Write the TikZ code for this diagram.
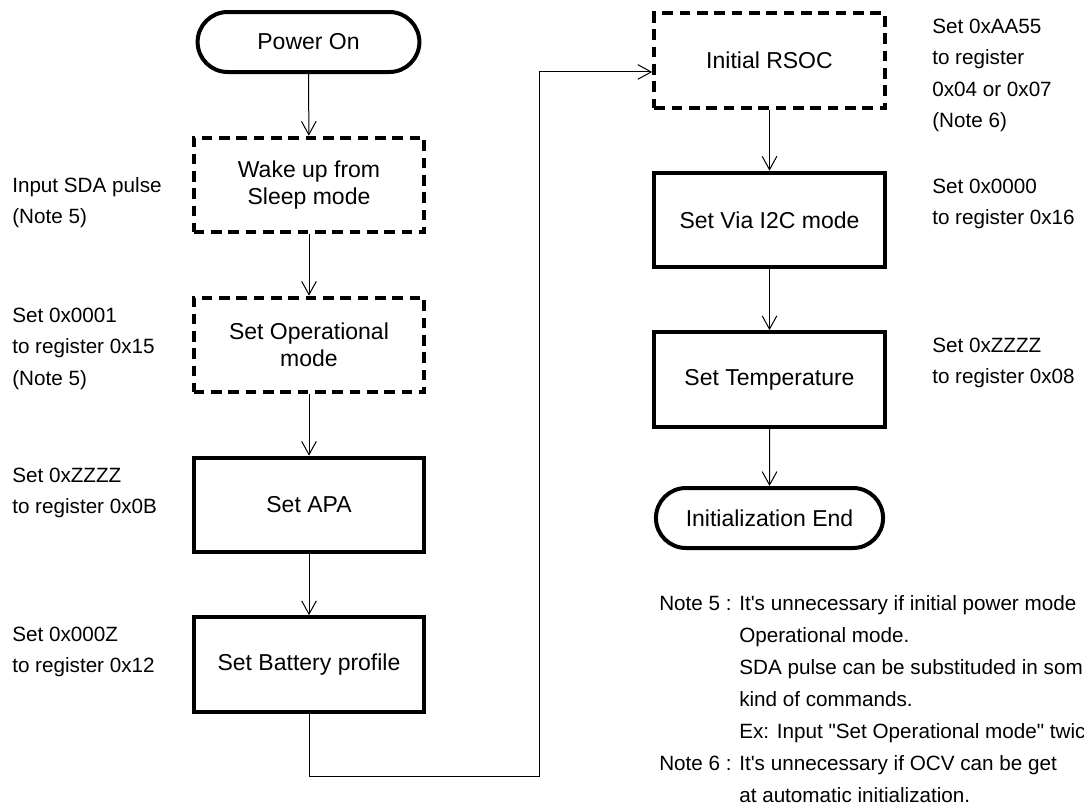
\documentclass[tikz,border=0pt]{standalone}
\usepackage{fontspec}
\setmainfont{Liberation Sans}
\usetikzlibrary{arrows.meta,shapes.misc}

\tikzstyle{flowfig}=[x=0.75pt,y=-0.75pt]
\tikzstyle{stepbox}=[draw,line width=3pt,minimum width=173pt,minimum height=71pt,align=center,font=\fontsize{17.25}{20}\selectfont]
\tikzstyle{optbox}=[stepbox,dash pattern=on 8pt off 5pt]
\tikzstyle{termbox}=[draw,line width=3pt,rounded rectangle,minimum width=172pt,minimum height=45pt,font=\fontsize{17.25}{20}\selectfont]
\tikzstyle{memo}=[anchor=base west,align=left,inner sep=0pt,font=\fontsize{15.5}{23.6}\selectfont]
\tikzstyle{flow}=[line width=0.75pt,-{Straight Barb[length=10pt,width=11pt]}]

\begin{document}
\begin{tikzpicture}[style=flowfig]
\useasboundingbox (0,0) rectangle (1084,807);

\node[termbox,minimum width=173pt] (power) at (308.5,42) {Power On};
\node[optbox] (wake) at (309,185) {Wake up from\\Sleep mode};
\node[optbox] (opmode) at (309,345) {Set Operational\\mode};
\node[stepbox] (apa) at (309,505) {Set APA};
\node[stepbox] (batt) at (309,664.5) {Set Battery profile};

\node[optbox] (rsoc) at (769.5,60.5) {Initial RSOC};
\node[stepbox] (i2c) at (769.5,220) {Set Via I2C mode};
\node[stepbox] (temp) at (769.5,379.5) {Set Temperature};
\node[termbox,minimum width=177pt] (done) at (769.5,518) {Initialization End};
\coordinate (turn) at (539,776);

\draw[flow] (power) -- (wake);
\draw[flow] (wake) -- (opmode);
\draw[flow] (opmode) -- (apa);
\draw[flow] (apa) -- (batt);
\draw[flow] (batt.south) |- (turn) |- ([yshift=-8.6pt]rsoc.west);
\draw[flow] (rsoc) -- (i2c);
\draw[flow] (i2c) -- (temp);
\draw[flow] (temp) -- (done);

% base west of a memo sits on its last line
\node[memo] (m1) at (12,223.5) {Input SDA pulse\\(Note 5)};
\node[memo] (m2) at (12,385) {Set 0x0001\\to register 0x15\\(Note 5)};
\node[memo] (m3) at (12,513.5) {Set 0xZZZZ\\to register 0x0B};
\node[memo] (m4) at (12,672.5) {Set 0x000Z\\to register 0x12};
\node[memo] (m5) at (932,127.5) {Set 0xAA55\\to register\\0x04 or 0x07\\(Note 6)};
\node[memo] (m6) at (932,224.5) {Set 0x0000\\to register 0x16};
\node[memo] (m7) at (932,383.5) {Set 0xZZZZ\\to register 0x08};

\node[anchor=base west,inner sep=0pt,font=\fontsize{15.5}{24}\selectfont] (notes) at (659,610)
 {\begin{tabular}[t]{@{}l@{ }l@{}}
 Note 5 : & It\textquotesingle s unnecessary if initial power mode\\
 & Operational mode.\\
 & SDA pulse can be substituded in som\\
 & kind of commands.\\
 & Ex: Input \textquotedbl Set Operational mode\textquotedbl\ twic\\
 Note 6 : & It\textquotesingle s unnecessary if OCV can be get\\
 & at automatic initialization.
 \end{tabular}};
\end{tikzpicture}
\end{document}
